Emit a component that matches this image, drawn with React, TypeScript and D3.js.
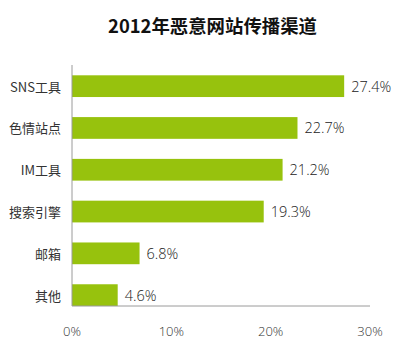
import React from "react";
import * as d3 from "d3";

const categories = ["SNS工具", "色情站点", "IM工具", "搜索引擎", "邮箱", "其他"];
const values = [27.4, 22.7, 21.2, 19.3, 6.8, 4.6];
const xTicks = [0, 10, 20, 30];
const title = "2012年恶意网站传播渠道";

const W = 411;
const H = 356;

export default function App() {
  const x = d3.scaleLinear().domain([0, 30]).range([72, 370]);
  const y = d3
    .scaleBand<string>()
    .domain(categories)
    .range([75.3, 306])
    .paddingInner(0.48)
    .paddingOuter(0);
  const axisColor = "#9a9a9a";
  const barColor = "#97c20d";
  return (
    <svg
      width={W}
      height={H}
      style={{ position: "absolute", left: 0, top: 0, background: "#fff" }}
    >
      <text
        x={212.5}
        y={25}
        textAnchor="middle"
        dominantBaseline="central"
        fontFamily="'Noto Sans CJK SC', sans-serif"
        fontWeight={700}
        fontSize={18.4}
        fill="#111"
      >
        {title}
      </text>
      {categories.map((c, i) => (
        <g key={c}>
          <rect
            x={x(0)}
            y={y(c)!}
            width={x(values[i]) - x(0)}
            height={y.bandwidth()}
            fill={barColor}
          />
          <text
            x={61}
            y={y(c)! + y.bandwidth() / 2}
            textAnchor="end"
            dominantBaseline="central"
            fontFamily="'Noto Sans CJK SC', sans-serif"
            fontSize={13}
            fill="#333"
          >
            {c}
          </text>
          <text
            x={x(values[i]) + 7}
            y={y(c)! + y.bandwidth() / 2}
            dominantBaseline="central"
            fontFamily="'Open Sans', sans-serif"
            fontWeight={300}
            fontSize={14.5}
            fill="#222"
          >
            {values[i].toFixed(1) + "%"}
          </text>
        </g>
      ))}
      <line x1={x(0)} x2={x(0)} y1={65} y2={306} stroke={axisColor} strokeWidth={1} />
      <line x1={x(0)} x2={x(30)} y1={306} y2={306} stroke={axisColor} strokeWidth={1} />
      {xTicks.map((t) => (
        <text
          key={t}
          x={x(t)}
          y={330.5}
          textAnchor="middle"
          dominantBaseline="central"
          fontFamily="'Open Sans', sans-serif"
          fontWeight={300}
          fontSize={13}
          fill="#333"
        >
          {t + "%"}
        </text>
      ))}
    </svg>
  );
}
